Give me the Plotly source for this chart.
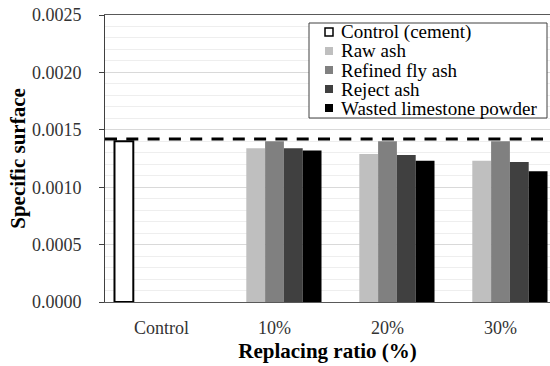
import plotly.graph_objects as go

# ---------------- data ----------------
categories = ["Control", "10%", "20%", "30%"]
control_cement = [0.00140, None, None, None]
raw_ash = [None, 0.00134, 0.00129, 0.00123]
refined_fly_ash = [None, 0.00140, 0.00140, 0.00140]
reject_ash = [None, 0.00134, 0.00128, 0.00122]
wasted_limestone_powder = [None, 0.00132, 0.00123, 0.00114]
reference_level = 0.00142

series_names = ["Control (cement)", "Raw ash", "Refined fly ash",
                "Reject ash", "Wasted limestone powder"]
y_tick_values = [0.0, 0.0005, 0.0010, 0.0015, 0.0020, 0.0025]
y_tick_labels = ["0.0000", "0.0005", "0.0010", "0.0015", "0.0020", "0.0025"]

# ---------------- styling ----------------
W, H = 550, 366
ML, MR, MT, MB = 105, 0, 15, 64
PW, PH = W - ML - MR, H - MT - MB
CAT_PX = 113.0  # pixel width of one category slot
SERIF = "Times New Roman, Liberation Serif, DejaVu Serif, serif"

fills = ["#ffffff", "#bfbfbf", "#808080", "#404040", "#000000"]
series_values = [control_cement, raw_ash, refined_fly_ash, reject_ash,
                 wasted_limestone_powder]

fig = go.Figure()
for name, vals, col in zip(series_names, series_values, fills):
    is_ctrl = name.startswith("Control")
    fig.add_trace(go.Bar(
        x=categories, y=vals, name=name,
        marker=dict(color=col,
                    line=dict(color="#000000", width=2 if is_ctrl else 0)),
        showlegend=False,
    ))

# reference dashed line
fig.add_shape(type="line", xref="paper", yref="y", x0=0, x1=1,
              y0=reference_level, y1=reference_level,
              line=dict(color="#000000", width=3, dash="12px,9.3px"),
              layer="above")


def px_x(p):
    return (p - ML) / PW


def px_y(p):
    return (H - MB - p) / PH


# legend box (manual, to match the compact row spacing)
fig.add_shape(type="rect", xref="paper", yref="paper",
              x0=px_x(309), x1=px_x(547), y0=px_y(118), y1=px_y(23),
              line=dict(color="#404040", width=1), fillcolor="#ffffff",
              layer="above")
row0, step = 32, 19
for i, (name, col) in enumerate(zip(series_names, fills)):
    cy = row0 + i * step
    fig.add_shape(type="rect", xref="paper", yref="paper",
                  x0=px_x(325), x1=px_x(333), y0=px_y(cy + 4), y1=px_y(cy - 4),
                  line=dict(color="#000000" if i == 0 else col,
                            width=1.5 if i == 0 else 0),
                  fillcolor=col, layer="above")
    fig.add_annotation(xref="paper", yref="paper", x=px_x(339), y=px_y(cy),
                       xanchor="left", yanchor="middle", showarrow=False,
                       text=name, font=dict(family=SERIF, size=19, color="#000000",
                                            weight="normal"))

fig.update_layout(
    width=W, height=H,
    margin=dict(l=ML, r=MR, t=MT, b=MB, autoexpand=False),
    paper_bgcolor="#ffffff", plot_bgcolor="#ffffff",
    barmode="group", bargap=0.168, bargroupgap=0,
    showlegend=False,
    font=dict(family=SERIF, size=18, color="#333333"),
)
fig.update_xaxes(
    type="category", range=[-0.5, -0.5 + PW / CAT_PX],
    showline=True, linecolor="#595959", linewidth=1, mirror=True,
    showgrid=False, ticks="", ticklabelstandoff=9,
    tickfont=dict(family=SERIF, size=18, color="#333333", weight="normal"),
    title=dict(text="Replacing ratio (%)", standoff=6,
               font=dict(family=SERIF, size=21, color="#000000", weight="bold")),
)
fig.update_yaxes(
    range=[0, 0.0025], tickvals=y_tick_values, ticktext=y_tick_labels,
    showline=True, linecolor="#404040", linewidth=1,
    ticks="outside", ticklen=5, tickcolor="#404040", ticklabelstandoff=14,
    showgrid=True, gridcolor="#d9d9d9", gridwidth=1,
    minor=dict(dtick=0.0001, showgrid=True, gridcolor="#eeeeee", gridwidth=1),
    zeroline=False,
    tickfont=dict(family=SERIF, size=18, color="#333333", weight="normal"),
    title=dict(text="Specific surface", standoff=0,
               font=dict(family=SERIF, size=21, color="#000000", weight="bold")),
)

fig.write_html("out.html")
